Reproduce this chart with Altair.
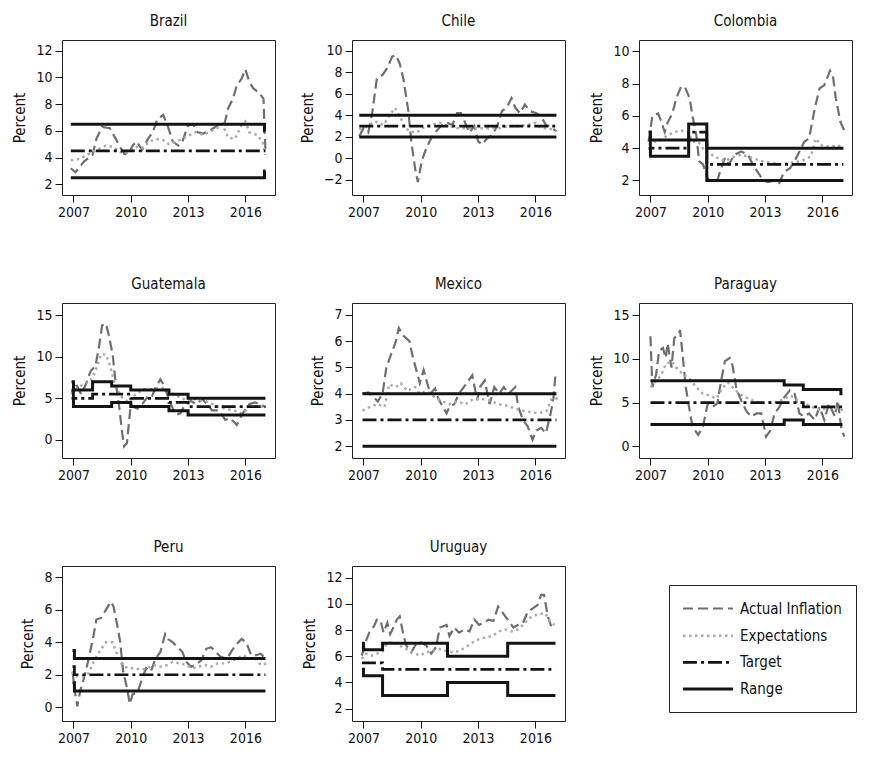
import altair as alt
import pandas as pd

# ---------------- data ----------------
SERIES = ["Actual Inflation", "Expectations", "Target", "Range"]
COLORS = ["#6f6f6f", "#ababab", "#141414", "#141414"]
DASHES = [[10, 5], [2.5, 3.5], [14, 4, 3, 4], [1, 0]]
WIDTHS = [2.2, 3.0, 2.2, 2.8]

COUNTRIES = ["Brazil", "Chile", "Colombia", "Guatemala", "Mexico", "Paraguay", "Peru", "Uruguay"]
X_DOMAIN = [2006.4, 2017.55]
X_TICKS = [2007, 2010, 2013, 2016]

Y_DOMAINS = {
    "Brazil": [1.2, 12.8], "Chile": [-3.4, 11.0], "Colombia": [1.1, 10.7],
    "Guatemala": [-2.2, 16.5], "Mexico": [1.55, 7.45], "Paraguay": [-1.35, 16.4],
    "Peru": [-0.85, 8.7], "Uruguay": [1.05, 12.9],
}
Y_TICKS = {
    "Brazil": [2, 4, 6, 8, 10, 12], "Chile": [-2, 0, 2, 4, 6, 8, 10],
    "Colombia": [2, 4, 6, 8, 10], "Guatemala": [0, 5, 10, 15],
    "Mexico": [2, 3, 4, 5, 6, 7], "Paraguay": [0, 5, 10, 15],
    "Peru": [0, 2, 4, 6, 8], "Uruguay": [2, 4, 6, 8, 10, 12],
}

# Brazil
brazil_actual = [(2006.86, 3.2), (2007.1, 2.9), (2007.55, 3.7), (2008.0, 4.2), (2008.2, 5.4), (2008.5, 6.3),
                 (2008.9, 6.2), (2009.1, 5.7), (2009.4, 4.9), (2009.65, 4.3), (2009.85, 4.2), (2010.1, 4.9),
                 (2010.3, 5.2), (2010.6, 4.6), (2010.9, 5.4), (2011.15, 5.9), (2011.4, 6.9), (2011.7, 7.2),
                 (2011.95, 6.3), (2012.2, 5.2), (2012.5, 4.9), (2012.7, 5.2), (2013.0, 6.4), (2013.25, 6.5),
                 (2013.5, 5.9), (2013.8, 5.8), (2014.1, 6.0), (2014.55, 6.4), (2014.9, 6.5), (2015.1, 7.7),
                 (2015.35, 8.4), (2015.55, 9.4), (2015.8, 9.9), (2016.0, 10.6), (2016.2, 9.7), (2016.4, 9.2),
                 (2016.75, 8.8), (2016.95, 8.4), (2017.0, 6.2), (2017.05, 4.6)]
brazil_expect = [(2006.86, 3.8), (2007.3, 3.9), (2007.7, 4.2), (2008.2, 4.55), (2008.7, 4.9), (2009.05, 4.8),
                 (2009.6, 4.3), (2009.9, 4.4), (2010.3, 4.8), (2010.6, 4.7), (2011.0, 5.2), (2011.3, 5.4),
                 (2011.7, 5.3), (2012.0, 5.0), (2012.4, 5.2), (2012.7, 5.4), (2013.1, 5.7), (2013.4, 5.9),
                 (2013.8, 5.7), (2014.1, 5.9), (2014.5, 6.2), (2014.8, 6.5), (2015.1, 5.5), (2015.45, 5.4),
                 (2015.8, 6.4), (2016.0, 6.7), (2016.2, 5.9), (2016.6, 5.7), (2016.9, 5.2), (2017.05, 4.2)]
brazil_upper = [(2006.86, 6.5), (2017.0, 6.0), (2017.05, 6.0)]
brazil_lower = [(2006.86, 2.5), (2017.0, 3.0), (2017.05, 3.0)]
brazil_target = [(2006.86, 4.5), (2017.05, 4.5)]

# Chile
chile_actual = [(2006.78, 2.06), (2007.0, 2.8), (2007.25, 2.4), (2007.45, 4.1), (2007.7, 7.4), (2008.0, 7.75),
                (2008.25, 8.4), (2008.5, 9.45), (2008.7, 9.6), (2008.9, 8.8), (2009.1, 7.3), (2009.35, 4.4),
                (2009.5, 1.6), (2009.7, -0.9), (2009.85, -2.2), (2010.05, -0.25), (2010.3, 1.0), (2010.55, 1.9),
                (2010.8, 2.5), (2011.05, 3.0), (2011.4, 3.3), (2011.65, 3.1), (2011.9, 4.2), (2012.1, 4.2),
                (2012.25, 3.6), (2012.55, 2.4), (2012.8, 3.0), (2013.0, 1.6), (2013.2, 1.3), (2013.5, 1.9),
                (2013.75, 2.2), (2014.0, 3.0), (2014.25, 4.4), (2014.5, 4.7), (2014.75, 5.6), (2014.95, 4.7),
                (2015.2, 4.2), (2015.45, 5.0), (2015.7, 4.4), (2016.05, 4.2), (2016.3, 3.9), (2016.55, 3.1),
                (2016.75, 3.0), (2016.9, 2.8), (2017.1, 2.5)]
chile_expect = [(2006.78, 2.7), (2007.2, 3.0), (2007.6, 3.45), (2008.05, 3.1), (2008.4, 4.1), (2008.65, 4.7),
                (2008.9, 3.9), (2009.2, 2.8), (2009.45, 2.5), (2009.8, 2.4), (2010.05, 2.8), (2010.5, 3.1),
                (2011.0, 3.3), (2011.5, 3.0), (2012.0, 2.8), (2012.55, 2.8), (2013.05, 2.8), (2013.55, 2.8),
                (2014.1, 2.8), (2014.6, 3.0), (2015.1, 3.0), (2015.6, 3.1), (2016.0, 3.3), (2016.3, 2.8),
                (2016.65, 2.8), (2017.1, 2.6)]
chile_upper = [(2006.78, 4.0), (2017.1, 4.0)]
chile_lower = [(2006.78, 2.0), (2017.1, 2.0)]
chile_target = [(2006.78, 3.0), (2017.1, 3.0)]

# Colombia
colombia_actual = [(2006.9, 4.4), (2007.1, 6.0), (2007.4, 6.15), (2007.55, 5.7), (2007.75, 5.0), (2007.9, 5.6),
                   (2008.15, 6.15), (2008.35, 7.1), (2008.6, 7.8), (2008.8, 7.8), (2009.05, 7.1), (2009.2, 6.0),
                   (2009.4, 4.8), (2009.55, 3.2), (2009.75, 3.0), (2010.0, 2.1), (2010.25, 1.9), (2010.5, 2.0),
                   (2010.7, 2.75), (2010.9, 3.4), (2011.1, 3.0), (2011.4, 3.6), (2011.75, 3.8), (2012.1, 3.6),
                   (2012.35, 3.0), (2012.6, 2.55), (2012.9, 2.0), (2013.15, 1.9), (2013.5, 2.0), (2013.75, 1.85),
                   (2014.0, 2.55), (2014.3, 2.75), (2014.55, 3.2), (2014.8, 3.8), (2015.05, 4.4), (2015.3, 4.6),
                   (2015.6, 6.45), (2015.85, 7.7), (2016.1, 7.9), (2016.4, 8.8), (2016.55, 8.5), (2016.7, 7.1),
                   (2016.95, 5.6), (2017.15, 5.1)]
colombia_expect = [(2006.9, 4.2), (2007.2, 4.4), (2007.55, 4.5), (2007.9, 4.8), (2008.25, 5.0), (2008.6, 5.1),
                   (2008.95, 5.0), (2009.2, 4.4), (2009.5, 4.4), (2009.85, 3.8), (2010.2, 3.6), (2010.5, 3.4),
                   (2010.9, 3.2), (2011.2, 3.4), (2011.75, 3.6), (2012.3, 3.4), (2012.8, 3.2), (2013.3, 3.1),
                   (2013.85, 3.0), (2014.35, 3.1), (2014.9, 3.2), (2015.4, 3.5), (2015.65, 4.6), (2015.9, 4.2),
                   (2016.2, 4.1), (2016.45, 4.1), (2016.8, 4.2), (2017.05, 4.0)]
colombia_upper = [(2006.9, 5.0), (2007.0, 4.5), (2009.0, 5.5), (2009.95, 4.0), (2017.1, 4.0)]
colombia_lower = [(2006.9, 4.0), (2007.0, 3.5), (2009.0, 4.5), (2009.95, 2.0), (2017.1, 2.0)]
colombia_target = [(2006.9, 4.5), (2007.0, 4.0), (2009.0, 5.0), (2009.95, 3.0), (2017.1, 3.0)]

# Guatemala
guatemala_actual = [(2006.9, 5.5), (2007.1, 6.9), (2007.4, 5.5), (2007.65, 6.7), (2007.9, 8.3), (2008.15, 8.9),
                    (2008.35, 11.4), (2008.5, 13.8), (2008.7, 14.0), (2008.85, 12.6), (2009.05, 10.3),
                    (2009.2, 7.1), (2009.4, 3.9), (2009.55, 0.8), (2009.65, -0.8), (2009.8, -0.4), (2010.0, 4.3),
                    (2010.15, 3.95), (2010.35, 3.75), (2010.6, 4.3), (2010.85, 5.1), (2011.05, 4.9), (2011.3, 6.3),
                    (2011.55, 7.3), (2011.75, 6.5), (2011.9, 5.5), (2012.1, 4.3), (2012.35, 3.0), (2012.6, 3.2),
                    (2012.85, 4.3), (2013.15, 4.7), (2013.4, 4.3), (2013.75, 4.9), (2014.0, 4.3), (2014.25, 3.55),
                    (2014.6, 3.55), (2014.95, 2.4), (2015.2, 2.6), (2015.55, 1.8), (2015.85, 3.15), (2016.2, 4.3),
                    (2016.5, 4.5), (2016.8, 4.3), (2017.05, 3.9)]
guatemala_expect = [(2006.9, 5.5), (2007.2, 6.3), (2007.55, 6.7), (2007.9, 7.1), (2008.15, 8.3), (2008.45, 10.3),
                    (2008.7, 10.3), (2008.95, 8.7), (2009.2, 6.3), (2009.55, 5.1), (2009.9, 4.5), (2010.25, 5.5),
                    (2010.7, 6.1), (2011.1, 6.1), (2011.55, 6.3), (2011.9, 6.1), (2012.25, 5.5), (2012.6, 5.1),
                    (2012.95, 4.7), (2013.4, 4.9), (2013.9, 4.7), (2014.45, 4.1), (2014.95, 3.75), (2015.4, 3.55),
                    (2015.85, 3.15), (2016.2, 3.95), (2016.6, 4.1), (2017.05, 3.95)]
guatemala_upper = [(2006.9, 7.0), (2007.0, 6.0), (2008.0, 7.0), (2009.0, 6.5), (2010.0, 6.0), (2012.0, 5.5),
                   (2013.0, 5.0), (2017.05, 5.0)]
guatemala_lower = [(2006.9, 5.0), (2007.0, 4.0), (2009.0, 4.5), (2010.0, 4.0), (2012.0, 3.5), (2013.0, 3.0),
                   (2017.05, 3.0)]
guatemala_target = [(2006.9, 6.0), (2007.0, 5.0), (2008.0, 5.5), (2010.0, 5.0), (2012.0, 4.5), (2013.0, 4.0),
                    (2017.05, 4.0)]

# Mexico
mexico_actual = [(2006.95, 4.0), (2007.25, 4.05), (2007.5, 3.9), (2007.75, 3.7), (2008.0, 4.0), (2008.2, 5.0),
                 (2008.45, 5.5), (2008.7, 6.0), (2008.85, 6.5), (2009.1, 6.2), (2009.4, 6.0), (2009.55, 5.5),
                 (2009.8, 4.8), (2009.95, 4.4), (2010.15, 4.9), (2010.3, 4.5), (2010.5, 4.0), (2010.75, 4.2),
                 (2010.9, 3.85), (2011.15, 3.5), (2011.35, 3.25), (2011.5, 3.5), (2011.75, 3.6), (2012.0, 4.0),
                 (2012.25, 4.25), (2012.5, 4.5), (2012.7, 4.7), (2012.95, 3.75), (2013.1, 4.25), (2013.35, 4.5),
                 (2013.6, 3.6), (2013.85, 4.25), (2014.1, 4.0), (2014.35, 4.25), (2014.6, 4.0), (2014.95, 4.25),
                 (2015.1, 3.5), (2015.35, 3.0), (2015.6, 2.75), (2015.85, 2.25), (2016.05, 2.6), (2016.3, 2.7),
                 (2016.55, 2.5), (2016.8, 3.25), (2016.95, 3.85), (2017.05, 4.7)]
mexico_expect = [(2006.95, 3.35), (2007.35, 3.5), (2007.75, 3.6), (2008.1, 3.5), (2008.35, 4.35), (2008.7, 4.25),
                 (2008.95, 4.4), (2009.3, 4.1), (2009.7, 4.25), (2009.95, 4.0), (2010.3, 4.1), (2010.65, 3.9),
                 (2011.05, 3.75), (2011.5, 3.6), (2011.9, 3.7), (2012.35, 3.6), (2012.75, 3.8), (2013.2, 3.8),
                 (2013.6, 3.75), (2014.05, 3.6), (2014.45, 3.55), (2014.9, 3.45), (2015.3, 3.35), (2015.75, 3.3),
                 (2016.15, 3.25), (2016.6, 3.35), (2016.95, 4.0), (2017.2, 3.7)]
mexico_upper = [(2006.95, 4.0), (2017.1, 4.0)]
mexico_lower = [(2006.95, 2.0), (2017.1, 2.0)]
mexico_target = [(2006.95, 3.0), (2017.1, 3.0)]

# Paraguay
paraguay_actual = [(2007.0, 12.6), (2007.1, 6.75), (2007.3, 8.25), (2007.45, 10.9), (2007.65, 11.25), (2007.8, 10.1),
                   (2007.9, 11.8), (2008.1, 9.0), (2008.25, 12.4), (2008.45, 12.75), (2008.55, 13.3), (2008.7, 10.1),
                   (2008.85, 6.75), (2009.05, 4.1), (2009.2, 2.25), (2009.5, 1.3), (2009.75, 2.25), (2010.0, 4.9),
                   (2010.25, 4.5), (2010.5, 4.9), (2010.7, 7.5), (2010.9, 9.75), (2011.15, 10.1), (2011.3, 9.2),
                   (2011.5, 6.55), (2011.75, 5.25), (2012.0, 4.1), (2012.25, 3.4), (2012.55, 3.75), (2012.8, 3.75),
                   (2013.05, 1.1), (2013.25, 1.7), (2013.5, 3.75), (2013.75, 4.5), (2014.0, 5.6), (2014.3, 6.4),
                   (2014.55, 6.0), (2014.8, 3.75), (2015.05, 3.4), (2015.3, 3.75), (2015.6, 3.0), (2015.85, 4.5),
                   (2016.1, 3.0), (2016.35, 4.9), (2016.65, 3.4), (2016.8, 5.25), (2017.0, 1.9), (2017.15, 1.1)]
paraguay_expect = [(2007.0, 6.75), (2007.3, 7.5), (2007.55, 8.1), (2007.8, 9.4), (2008.1, 9.75), (2008.35, 9.0),
                   (2008.7, 8.25), (2009.05, 7.7), (2009.4, 6.75), (2009.75, 6.0), (2010.1, 5.8), (2010.45, 5.45),
                   (2010.8, 6.75), (2011.05, 7.3), (2011.3, 6.75), (2011.65, 6.0), (2012.0, 5.6), (2012.35, 5.25),
                   (2012.8, 4.9), (2013.25, 5.05), (2013.65, 5.05), (2014.0, 5.45), (2014.35, 5.8), (2014.7, 5.25),
                   (2015.05, 4.9), (2015.45, 4.5), (2015.9, 4.1), (2016.35, 4.5), (2016.8, 4.3), (2017.15, 4.1)]
paraguay_upper = [(2007.0, 7.5), (2014.0, 7.0), (2015.0, 6.5), (2016.97, 6.0), (2017.05, 6.0)]
paraguay_lower = [(2007.0, 2.5), (2014.0, 3.0), (2015.0, 2.5), (2017.05, 2.5)]
paraguay_target = [(2007.0, 5.0), (2015.0, 4.5), (2017.05, 4.5)]

# Peru
peru_actual = [(2006.95, 2.2), (2007.07, 1.0), (2007.2, 0.06), (2007.35, 1.0), (2007.55, 1.8), (2007.8, 3.0),
               (2008.05, 4.4), (2008.2, 5.4), (2008.45, 5.5), (2008.7, 6.0), (2008.95, 6.5), (2009.1, 6.2),
               (2009.3, 5.0), (2009.45, 4.0), (2009.6, 2.2), (2009.8, 1.2), (2009.95, 0.2), (2010.1, 0.8),
               (2010.35, 0.9), (2010.55, 1.6), (2010.8, 2.4), (2011.05, 2.2), (2011.3, 3.0), (2011.55, 3.4),
               (2011.8, 4.5), (2011.95, 4.2), (2012.2, 4.0), (2012.45, 3.7), (2012.7, 3.4), (2012.9, 2.8),
               (2013.15, 2.5), (2013.4, 2.6), (2013.7, 2.9), (2013.95, 3.6), (2014.2, 3.7), (2014.45, 3.4),
               (2014.7, 3.1), (2015.05, 3.0), (2015.3, 3.5), (2015.55, 3.9), (2015.8, 4.2), (2016.05, 4.0),
               (2016.3, 3.2), (2016.55, 3.2), (2016.8, 3.3), (2017.05, 3.0)]
peru_expect = [(2006.95, 2.2), (2007.1, 1.9), (2007.45, 1.9), (2007.8, 2.1), (2008.05, 2.8), (2008.35, 3.4),
               (2008.7, 4.0), (2009.05, 4.0), (2009.3, 3.2), (2009.55, 2.6), (2009.85, 2.4), (2010.2, 2.4),
               (2010.55, 2.3), (2010.85, 2.4), (2011.2, 2.6), (2011.55, 2.5), (2011.9, 2.6), (2012.2, 2.8),
               (2012.55, 2.7), (2012.9, 2.6), (2013.2, 2.4), (2013.55, 2.5), (2013.9, 2.6), (2014.2, 2.5),
               (2014.55, 2.7), (2014.9, 2.7), (2015.2, 2.8), (2015.55, 3.0), (2015.9, 3.2), (2016.2, 3.0),
               (2016.55, 3.0), (2016.8, 2.6), (2017.15, 2.7)]
peru_upper = [(2006.95, 3.5), (2007.05, 3.0), (2017.05, 3.0)]
peru_lower = [(2006.95, 1.5), (2007.05, 1.0), (2017.05, 1.0)]
peru_target = [(2006.95, 2.5), (2007.05, 2.0), (2017.05, 2.0)]

# Uruguay
uruguay_actual = [(2006.92, 6.05), (2007.1, 7.05), (2007.3, 7.8), (2007.55, 8.3), (2007.7, 8.8), (2007.9, 8.7),
                  (2008.05, 7.8), (2008.25, 8.55), (2008.4, 7.7), (2008.6, 8.3), (2008.75, 8.8), (2008.9, 9.05),
                  (2009.1, 7.55), (2009.25, 6.8), (2009.5, 6.3), (2009.8, 7.05), (2010.05, 7.05), (2010.3, 6.8),
                  (2010.55, 6.2), (2010.8, 6.7), (2011.0, 8.2), (2011.35, 8.4), (2011.5, 7.55), (2011.75, 8.2),
                  (2012.0, 7.8), (2012.3, 8.05), (2012.55, 7.9), (2012.8, 8.8), (2013.05, 8.4), (2013.3, 8.55),
                  (2013.55, 8.8), (2013.8, 8.7), (2014.05, 9.8), (2014.35, 9.2), (2014.6, 8.7), (2014.85, 8.2),
                  (2015.1, 8.4), (2015.35, 8.55), (2015.6, 9.4), (2015.9, 9.7), (2016.1, 9.9), (2016.3, 10.7),
                  (2016.45, 10.7), (2016.65, 9.05), (2016.8, 8.4), (2017.0, 8.05)]
uruguay_expect = [(2006.92, 5.8), (2007.1, 6.2), (2007.45, 6.05), (2007.7, 6.2), (2008.0, 6.4), (2008.25, 7.05),
                  (2008.6, 7.05), (2008.9, 6.8), (2009.25, 6.55), (2009.6, 6.3), (2009.95, 6.05), (2010.3, 6.3),
                  (2010.65, 6.4), (2011.0, 6.55), (2011.35, 6.4), (2011.7, 6.3), (2012.0, 6.4), (2012.35, 6.7),
                  (2012.7, 7.05), (2013.05, 7.3), (2013.4, 7.45), (2013.75, 7.55), (2014.1, 7.9), (2014.4, 8.05),
                  (2014.75, 7.9), (2015.1, 8.05), (2015.45, 8.55), (2015.8, 9.05), (2016.15, 9.2), (2016.5, 9.3),
                  (2016.75, 8.7), (2017.0, 8.4)]
uruguay_upper = [(2006.92, 7.0), (2007.0, 6.5), (2008.0, 7.0), (2011.4, 6.0), (2014.55, 7.0), (2017.05, 7.0)]
uruguay_lower = [(2006.92, 5.0), (2007.0, 4.5), (2008.0, 3.0), (2011.4, 4.0), (2014.55, 3.0), (2017.05, 3.0)]
uruguay_target = [(2006.92, 5.5), (2008.0, 5.0), (2017.05, 5.0)]

TABLES = {
    "Brazil": (brazil_actual, brazil_expect, brazil_upper, brazil_lower, brazil_target),
    "Chile": (chile_actual, chile_expect, chile_upper, chile_lower, chile_target),
    "Colombia": (colombia_actual, colombia_expect, colombia_upper, colombia_lower, colombia_target),
    "Guatemala": (guatemala_actual, guatemala_expect, guatemala_upper, guatemala_lower, guatemala_target),
    "Mexico": (mexico_actual, mexico_expect, mexico_upper, mexico_lower, mexico_target),
    "Paraguay": (paraguay_actual, paraguay_expect, paraguay_upper, paraguay_lower, paraguay_target),
    "Peru": (peru_actual, peru_expect, peru_upper, peru_lower, peru_target),
    "Uruguay": (uruguay_actual, uruguay_expect, uruguay_upper, uruguay_lower, uruguay_target),
}

rows = []
for c, (act, exp, up, lo, tg) in TABLES.items():
    for series, part, pts in [("Actual Inflation", "a", act), ("Expectations", "e", exp),
                              ("Range", "upper", up), ("Range", "lower", lo), ("Target", "t", tg)]:
        for t, v in pts:
            rows.append({"country": c, "series": series, "part": part, "t": t, "v": v})
df = pd.DataFrame(rows)

# ---------------- chart ----------------
FONT = "DejaVu Sans Condensed, Liberation Sans, sans-serif"

color_enc = alt.Color("series:N", scale=alt.Scale(domain=SERIES, range=COLORS), legend=alt.Legend(title=None))
dash_enc = alt.StrokeDash("series:N", scale=alt.Scale(domain=SERIES, range=DASHES), legend=alt.Legend(title=None))
width_enc = alt.StrokeWidth("series:N", scale=alt.Scale(domain=SERIES, range=WIDTHS), legend=alt.Legend(title=None))


def panel(c):
    base = alt.Chart(df).transform_filter(alt.datum.country == c)
    x = alt.X("t:Q", scale=alt.Scale(domain=X_DOMAIN, nice=False, zero=False),
              axis=alt.Axis(values=X_TICKS, format="d", title=None))
    y = alt.Y("v:Q", scale=alt.Scale(domain=Y_DOMAINS[c], nice=False, zero=False),
              axis=alt.Axis(values=Y_TICKS[c], format="d", title="Percent"))
    enc = dict(x=x, y=y, color=color_enc, strokeDash=dash_enc, strokeWidth=width_enc, detail="part:N")
    actual = base.transform_filter(alt.datum.series == "Actual Inflation").mark_line().encode(**enc)
    expect = base.transform_filter(alt.datum.series == "Expectations").mark_line(strokeCap="butt").encode(**enc)
    steps = base.transform_filter(
        (alt.datum.series == "Target") | (alt.datum.series == "Range")
    ).mark_line(interpolate="step-after").encode(**enc)
    return alt.layer(actual, expect, steps).properties(
        width=213, height=155,
        title=alt.TitleParams(c, frame="group", offset=11),
    )


chart = alt.concat(*[panel(c) for c in COUNTRIES], columns=3, spacing={"row": 56, "column": 23}).properties(
    padding={"left": 4, "top": 5, "right": 0, "bottom": 0}
).configure_view(
    stroke="#222222", strokeWidth=1
).configure_axis(
    labelFont=FONT, labelFontSize=14, labelColor="#111111", tickColor="#111111", tickSize=7,
    labelPadding=3, domain=False, grid=False, titleFont=FONT, titleFontSize=15,
    titleFontWeight="normal", titleColor="#111111", titlePadding=8,
).configure_title(
    font=FONT, fontSize=15, fontWeight="normal", color="#111111", anchor="middle",
).configure_legend(
    orient="none", legendX=607, legendY=545, columns=1,
    strokeColor="#222222", fillColor="white", padding=14,
    labelFont=FONT, labelFontSize=15, labelColor="#111111",
    symbolType="M-3,0H3", symbolSize=278, symbolOffset=15, labelOffset=22, rowPadding=8.7,
)

chart.save("out.html", embed_options={"renderer": "svg", "actions": False})
